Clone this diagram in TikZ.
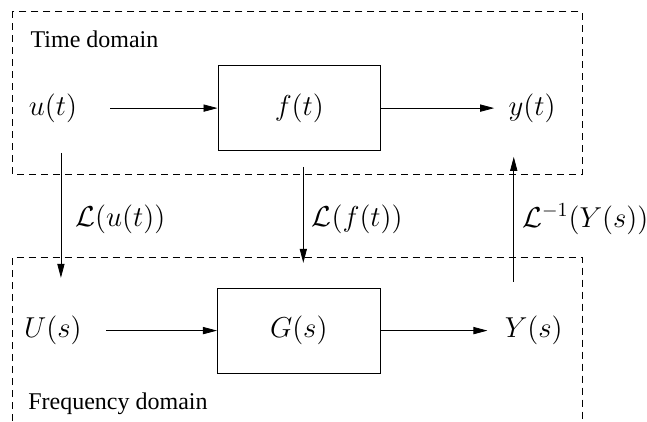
\documentclass[12pt,tikz,border=0pt]{standalone}
\usepackage[no-math]{fontspec}
\setmainfont{Liberation Serif}
\usepackage{amsmath,amssymb}
\usetikzlibrary{arrows.meta,positioning,calc}

\begin{document}
\begin{tikzpicture}[
    block/.style={draw, minimum width=2.86cm, minimum height=1.49cm, inner sep=0pt, font=\large},
    sig/.style={inner sep=4pt, font=\large},
    lbl/.style={right, inner sep=4pt, font=\large},
    arr/.style={-{Triangle[length=7pt,width=3.6pt]}},
    dashframe/.style={dash pattern=on 3.5pt off 2.5pt}
]
\useasboundingbox (0,0) rectangle (11.37,-7.40);

\draw[dashframe] (0.22,-0.20) rectangle (10.23,-3.07);
\draw[dashframe] (0.22,-7.40) -- (0.22,-4.52) -- (10.23,-4.52) -- (10.23,-7.40);

\node[anchor=base west] (tlab) at (0.39,-0.83) {Time domain};
\node[anchor=base west] (flab) at (0.35,-7.20) {Frequency domain};

\node[sig] (u) at (0.93,-1.90) {$u(t)$};
\node[block] (f) at (5.26,-1.90) {$f(t)$};
\node[sig] (y) at (9.35,-1.90) {$y(t)$};
\node[sig] (U) at (0.93,-5.81) {$U(s)$};
\node[block] (G) at (5.25,-5.81) {$G(s)$};
\node[sig] (Y) at (9.38,-5.81) {$Y(s)$};

\draw[arr, shorten <=12.5pt] (u) -- (f);
\draw[arr, shorten >=3pt] (f) -- (y);
\draw[arr, shorten <=8pt] (U) -- (G);
\draw[arr, shorten >=4.5pt] (G) -- (Y);

\draw[arr, shorten <=11pt, shorten >=15pt] ([xshift=4pt]u.south) -- node[lbl, xshift=3pt] {$\mathcal{L}(u(t))$} ([xshift=4pt]u.south |- U.north);
\draw[arr, shorten <=8pt, shorten >=12.5pt] ([xshift=2pt]f.south) -- node[lbl] {$\mathcal{L}(f(t))$} ([xshift=2pt]f.south |- G.north);
\draw[arr, shorten <=13pt, shorten >=13pt] ([xshift=-10pt]Y.north) -- node[lbl] {$\mathcal{L}^{-1}(Y(s))$} ([xshift=-10pt]Y.north |- y.south);
\end{tikzpicture}
\end{document}
